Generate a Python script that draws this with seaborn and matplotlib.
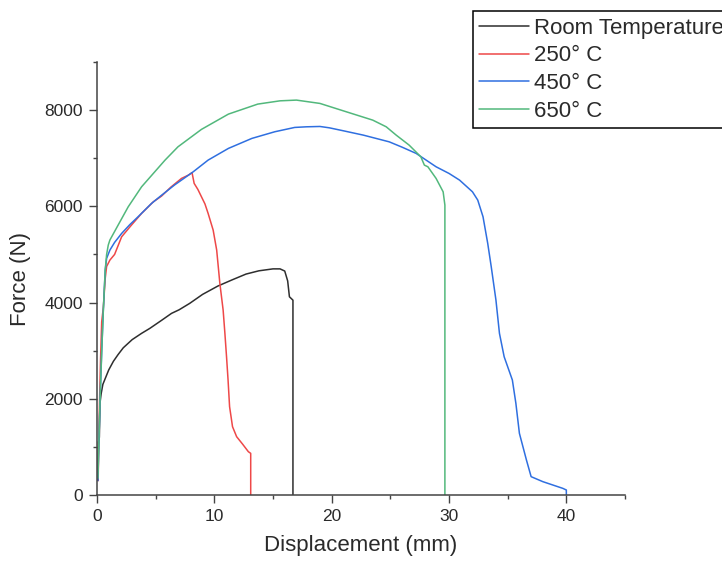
import matplotlib
matplotlib.use("Agg")
import matplotlib.pyplot as plt
from matplotlib.ticker import MultipleLocator
import seaborn as sns
import pandas as pd

# ---- data ----
series_names = ["Room Temperature", "250° C", "450° C", "650° C"]
series_colors = ["#2e2e2e", "#ee4848", "#2f6fe0", "#52b87c"]

rt_x = [0.08, 0.12, 0.2, 0.25, 0.35, 0.5, 0.75, 1.0, 1.4, 1.8, 2.24, 3.0, 3.8, 4.5, 5.5,
        6.35, 7.0, 7.9, 9.0, 10.3, 11.5, 12.7, 13.8, 15.0, 15.6, 16.0, 16.25, 16.4, 16.7, 16.7]
rt_y = [300, 1100, 1200, 1900, 2100, 2300, 2450, 2600, 2780, 2920, 3060, 3230, 3360, 3463, 3630,
        3775, 3850, 3983, 4170, 4343, 4470, 4592, 4660, 4700, 4700, 4655, 4450, 4120, 4050, 0]

t250_x = [0.1, 0.15, 0.22, 0.3, 0.4, 0.54, 0.7, 0.82, 1.1, 1.5, 2.1, 2.9, 3.8, 4.8, 5.5, 6.3,
          7.2, 7.8, 8.1, 8.28, 8.6, 8.9, 9.2, 9.47, 9.9, 10.2, 10.47, 10.75, 10.9, 11.04,
          11.17, 11.3, 11.55, 11.9, 12.4, 12.9, 13.1, 13.1]
t250_y = [300, 1100, 1974, 2800, 3600, 3900, 4500, 4750, 4883, 5000, 5367, 5600, 5853, 6094,
          6213, 6400, 6580, 6650, 6700, 6477, 6350, 6200, 6050, 5853, 5506, 5091, 4400, 3844,
          3360, 2874, 2390, 1835, 1420, 1212, 1060, 900, 866, 0]

t450_x = [0.08, 0.17, 0.26, 0.4, 0.54, 0.7, 0.82, 1.1, 1.5, 2.1, 2.8, 3.5, 4.65, 5.5, 6.6,
          8.2, 9.47, 11.2, 13.2, 15.15, 16.85, 17.85, 19.0, 19.8, 21.0, 22.7, 24.9, 26.0,
          27.2, 28.9, 30.0, 30.9, 32.0, 32.45, 32.9, 33.3, 33.6, 34.0, 34.3, 34.7, 35.4,
          35.7, 36.0, 36.6, 37.0, 38.0, 39.7, 40.0, 40.0]
t450_y = [300, 1178, 1974, 2978, 3844, 4675, 4918, 5091, 5250, 5437, 5620, 5783, 6061, 6230,
          6442, 6718, 6961, 7204, 7412, 7550, 7640, 7653, 7660, 7632, 7570, 7480, 7341, 7230,
          7100, 6822, 6684, 6545, 6302, 6130, 5783, 5230, 4744, 4052, 3360, 2874, 2390,
          1905, 1282, 727, 381, 277, 138, 104, 0]

t650_x = [0.08, 0.17, 0.26, 0.4, 0.54, 0.7, 0.82, 0.96, 1.1, 1.8, 2.66, 3.8, 5.8, 6.9, 8.9,
          11.2, 13.7, 15.6, 17.0, 19.0, 21.25, 23.5, 24.65, 25.5, 26.6, 27.6, 27.9, 28.2,
          28.9, 29.5, 29.65, 29.65]
t650_y = [350, 1178, 1974, 2978, 3844, 4675, 5000, 5195, 5300, 5610, 5990, 6406, 6961, 7237,
          7599, 7917, 8125, 8193, 8208, 8139, 7965, 7792, 7653, 7480, 7273, 7030, 6857, 6822,
          6580, 6302, 6026, 0]

x_ticks_major = [0, 10, 20, 30, 40]
y_ticks_major = [0, 2000, 4000, 6000, 8000]

# ---- build long table ----
frames = []
for name, xs, ys in zip(series_names,
                        [rt_x, t250_x, t450_x, t650_x],
                        [rt_y, t250_y, t450_y, t650_y]):
    frames.append(pd.DataFrame({"Displacement": xs, "Force": ys, "Series": name}))
df = pd.concat(frames, ignore_index=True)

sns.set_style("ticks")
plt.rcParams["font.family"] = ["Liberation Sans", "DejaVu Sans"]
text_color = "#2a2a2a"

fig = plt.figure(figsize=(7.22, 5.65), dpi=100)
ax = fig.add_axes([97 / 722, 70 / 565, 528 / 722, 433 / 565])

sns.lineplot(data=df, x="Displacement", y="Force", hue="Series", hue_order=series_names,
             palette=dict(zip(series_names, series_colors)), sort=False, estimator=None,
             units="Series", linewidth=1.1, ax=ax)

handles, labels = ax.get_legend_handles_labels()
ax.get_legend().remove()

ax.set_xlim(0, 45)
ax.set_ylim(0, 9000)
ax.xaxis.set_major_locator(MultipleLocator(10))
ax.xaxis.set_minor_locator(MultipleLocator(5))
ax.yaxis.set_major_locator(MultipleLocator(2000))
ax.yaxis.set_minor_locator(MultipleLocator(1000))
ax.set_xticks(x_ticks_major)
ax.set_yticks(y_ticks_major)

sns.despine(ax=ax)
for s in ["left", "bottom"]:
    ax.spines[s].set_color("#444444")
    ax.spines[s].set_linewidth(1.1)

ax.tick_params(axis="both", which="major", direction="out", length=6, width=1.0,
               color="#444444", labelsize=12.5, labelcolor=text_color, pad=4)
ax.tick_params(axis="both", which="minor", direction="out", length=3, width=1.0,
               color="#444444")

ax.set_xlabel("Displacement (mm)", fontsize=16, color=text_color, labelpad=8)
ax.set_ylabel("Force (N)", fontsize=16, color=text_color, labelpad=10)

leg = fig.legend(handles, labels, loc="upper left",
                 bbox_to_anchor=(472.5 / 722, 1 - 11 / 565),
                 frameon=True, fancybox=False, edgecolor="black", framealpha=1,
                 fontsize=16, handlelength=2.25, handletextpad=0.2, borderpad=0.3,
                 labelspacing=0.3, borderaxespad=0)
leg.get_frame().set_linewidth(1.1)
for t in leg.get_texts():
    t.set_color(text_color)

fig.savefig("out.png", dpi=100)
